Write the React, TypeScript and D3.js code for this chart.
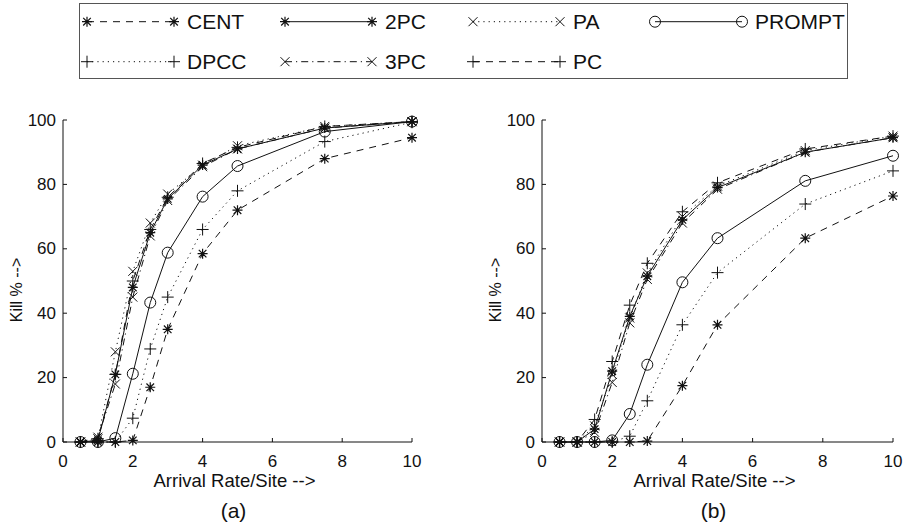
import React from "react";
import { scaleLinear, line } from "d3";

// arrival rate per site (x values shared by every series)
const arrivalRates = [0.5, 1, 1.5, 2, 2.5, 3, 4, 5, 7.5, 10];
const xTicks = [0, 2, 4, 6, 8, 10];
const yTicks = [0, 20, 40, 60, 80, 100];

// panel (a)
const centA = [0, 0, 0, 0.5, 17, 35, 58.5, 72, 88, 94.5];
const twoPcA = [0, 0.5, 21, 48, 65, 75.5, 86, 91, 97.5, 99.5];
const paA = [0, 1, 28, 53, 68, 77, 86, 92, 98, 99.5];
const promptA = [0, 0, 1.2, 21.2, 43.3, 58.8, 76.2, 85.7, 96.4, 99.5];
const dpccA = [0, 0, 0, 7.4, 28.9, 45, 66, 78, 93.3, 99.3];
const threePcA = [0, 1.5, 18, 45, 64, 75, 85.5, 91, 97.5, 99.5];
const pcA = [0, 1, 21, 50, 66, 76, 86.5, 91.5, 98, 99.5];

// panel (b)
const centB = [0, 0, 0, 0, 0, 0.3, 17.5, 36.4, 63.3, 76.4];
const twoPcB = [0, 0, 4, 22, 39, 51.5, 69, 79, 90, 94.5];
const paB = [0, 0, 5, 21, 38.5, 52.5, 70, 79.5, 90.5, 95];
const promptB = [0, 0, 0, 0.5, 8.7, 24, 49.6, 63.3, 81.1, 88.9];
const dpccB = [0, 0, 0, 0, 1.8, 12.8, 36.4, 52.6, 73.9, 84.2];
const threePcB = [0, 0, 3, 18.5, 37, 50.5, 68, 78.5, 90, 94.5];
const pcB = [0, 0, 7, 25, 42.5, 55.5, 71.5, 80.5, 91, 95];

// legend order (row by row)
const seriesNames = ["CENT", "2PC", "PA", "PROMPT", "DPCC", "3PC", "PC"];

const styles: Record<string, { dash: string; marker: string }> = {
  CENT: { dash: "7 6", marker: "star" },
  "2PC": { dash: "none", marker: "star" },
  PA: { dash: "1.2 4", marker: "x" },
  PROMPT: { dash: "none", marker: "circle" },
  DPCC: { dash: "1.2 4", marker: "plus" },
  "3PC": { dash: "7 4 1.2 4", marker: "x" },
  PC: { dash: "7 6", marker: "plus" },
};

const dataA: Record<string, number[]> = {
  CENT: centA, "2PC": twoPcA, PA: paA, PROMPT: promptA, DPCC: dpccA, "3PC": threePcA, PC: pcA,
};
const dataB: Record<string, number[]> = {
  CENT: centB, "2PC": twoPcB, PA: paB, PROMPT: promptB, DPCC: dpccB, "3PC": threePcB, PC: pcB,
};

const FONT = "'Liberation Sans', Arial, sans-serif";
const INK = "#111";

function Marker({ type, x, y }: { type: string; x: number; y: number }) {
  const p = { stroke: INK, strokeWidth: 1, fill: "none" };
  if (type === "circle") return <circle cx={x} cy={y} r={5.5} {...p} />;
  if (type === "plus")
    return <path d={`M${x - 6},${y}H${x + 6}M${x},${y - 6}V${y + 6}`} {...p} />;
  if (type === "x")
    return <path d={`M${x - 4.5},${y - 4.5}L${x + 4.5},${y + 4.5}M${x - 4.5},${y + 4.5}L${x + 4.5},${y - 4.5}`} {...p} />;
  // asterisk
  const d = 3.8;
  return (
    <path
      d={`M${x - 5},${y}H${x + 5}M${x},${y - 5}V${y + 5}M${x - d},${y - d}L${x + d},${y + d}M${x - d},${y + d}L${x + d},${y - d}`}
      {...p}
      strokeWidth={1.2}
    />
  );
}

function Panel({ left, right, data, label }: { left: number; right: number; data: Record<string, number[]>; label: string }) {
  const top = 120;
  const bottom = 442;
  const x = scaleLinear().domain([0, 10]).range([left, right]);
  const y = scaleLinear().domain([0, 100]).range([bottom, top]);
  const path = line<number>()
    .x((_, i) => x(arrivalRates[i]))
    .y((v) => y(v));
  const mid = (left + right) / 2;

  return (
    <g fontFamily={FONT} fill={INK}>
      {seriesNames.map((name) => (
        <g key={name}>
          <path d={path(data[name]) || ""} fill="none" stroke={INK} strokeWidth={1} strokeDasharray={styles[name].dash} />
          {data[name].map((v, i) => (
            <Marker key={i} type={styles[name].marker} x={x(arrivalRates[i])} y={y(v)} />
          ))}
        </g>
      ))}
      <line x1={left} x2={left} y1={top} y2={bottom} stroke={INK} />
      <line x1={left} x2={right} y1={bottom} y2={bottom} stroke={INK} />
      {xTicks.map((t) => (
        <g key={t}>
          <line x1={x(t)} x2={x(t)} y1={bottom} y2={bottom - 4} stroke={INK} />
          <text x={x(t)} y={461} fontSize={17} textAnchor="middle" dominantBaseline="central">{t}</text>
        </g>
      ))}
      {yTicks.map((t) => (
        <g key={t}>
          <line x1={left} x2={left + 4} y1={y(t)} y2={y(t)} stroke={INK} />
          <text x={left - 7} y={y(t)} fontSize={17} textAnchor="end" dominantBaseline="central">{t}</text>
        </g>
      ))}
      <text x={mid - 3} y={487} fontSize={18.5} textAnchor="middle">Arrival Rate/Site --&gt;</text>
      <text x={mid - 4} y={518} fontSize={21} textAnchor="middle">{label}</text>
      <text
        transform={`translate(${left - 41},${290}) rotate(-90)`}
        fontSize={16}
        textAnchor="middle"
      >
        Kill % --&gt;
      </text>
    </g>
  );
}

function Legend() {
  const colX = [87, 285, 473, 655];
  const rowY = [21.7, 61.7];
  const len = 87;
  return (
    <g fontFamily={FONT}>
      <rect x={79.5} y={3.5} width={768} height={75} fill="#fff" stroke="#555" strokeWidth={1} />
      {seriesNames.map((name, i) => {
        const cx = colX[i % 4];
        const cy = rowY[Math.floor(i / 4)];
        const s = styles[name];
        return (
          <g key={name}>
            <line x1={cx} x2={cx + len} y1={cy} y2={cy} stroke={INK} strokeWidth={1} strokeDasharray={s.dash} />
            <Marker type={s.marker} x={cx} y={cy} />
            <Marker type={s.marker} x={cx + len} y={cy} />
            <text x={cx + len + 13} y={cy + 7.5} fontSize={21} fill={INK}>{name}</text>
          </g>
        );
      })}
    </g>
  );
}

export default function App() {
  return (
    <svg width={903} height={525} style={{ position: "absolute", left: 0, top: 0, background: "#fff" }}>
      <rect width={903} height={525} fill="#fff" />
      <Legend />
      <Panel left={63} right={412} data={dataA} label="(a)" />
      <Panel left={542} right={893} data={dataB} label="(b)" />
    </svg>
  );
}
